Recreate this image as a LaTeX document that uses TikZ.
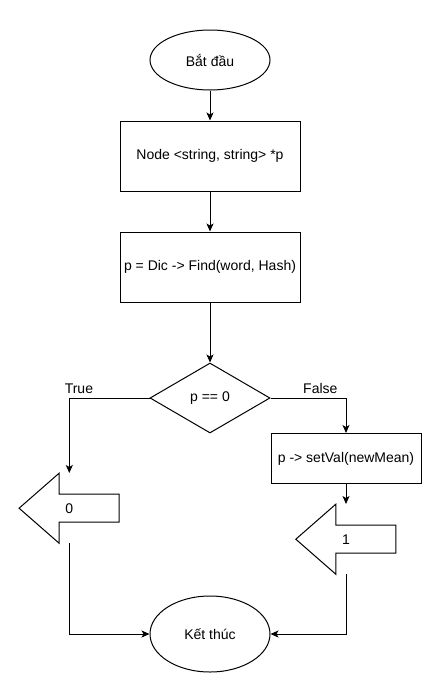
\documentclass[tikz,border=0pt]{standalone}
\usepackage{fontspec}
\setmainfont{Liberation Sans}
\usetikzlibrary{arrows.meta,positioning,shapes.geometric}

\begin{document}
\begin{tikzpicture}[
    x=1pt, y=1pt,
    node distance=30pt and 30pt,
    font=\fontsize{14}{16}\selectfont,
    every node/.style={inner sep=2pt},
    term/.style={draw, ellipse, minimum width=120pt, minimum height=60pt, line width=1pt},
    box/.style={draw, rectangle, minimum width=180pt, minimum height=70pt, align=center, line width=1pt},
    test/.style={draw, diamond, minimum width=120pt, minimum height=70pt, inner sep=0pt, line width=1pt},
    pointer/.style={rectangle, minimum width=100pt, minimum height=70pt, inner sep=0pt},
    arrow/.style={-{Stealth[length=8pt, width=7pt, inset=2pt]}, line width=1pt}
  ]
    \useasboundingbox (0,0) rectangle (441,-691);

    \node[term] (start) at (210,-60) {Bắt đầu};
    \node[box, below=30pt of start] (decl) {Node <string, string> *p};
    \node[box, below=40pt of decl] (find) {p = Dic -> Find(word, Hash)};
    \node[test, below=60pt of find] (cond) {p == 0};
    \node[box, minimum width=150pt, minimum height=50pt, below right=35pt and 0pt of cond.east] (update) {p -> setVal(newMean)};
    \node[pointer, below left=75pt and 30pt of cond.west] (zero) {0};
    \node[pointer, below=20pt of update] (one) {1};
    \node[term, minimum height=76pt, below=162pt of cond] (stop) {Kết thúc};

    % left-pointing block arrows
    \draw[line width=1pt] (zero.west) -- ++(40,35) -- ++(0,-21) -- ++(60,0) -- ++(0,-28) -- ++(-60,0) -- ++(0,-21) -- cycle;
    \draw[line width=1pt] (one.west) -- ++(40,35) -- ++(0,-21) -- ++(60,0) -- ++(0,-28) -- ++(-60,0) -- ++(0,-21) -- cycle;

    \draw[arrow] (start) -- (decl);
    \draw[arrow] (decl) -- (find);
    \draw[arrow] (find) -- (cond);
    \draw[arrow] (cond.west) -| node[above, inner sep=4pt, pos=0.44] (yes) {True} (zero.north);
    \draw[arrow] (cond.east) -| node[above, inner sep=4pt, pos=0.33] (no) {False} (update.north);
    \draw[arrow] (update) -- (one);
    \draw[arrow] (zero.south) |- (stop.west);
    \draw[arrow] (one.south) |- (stop.east);
  \end{tikzpicture}
\end{document}
